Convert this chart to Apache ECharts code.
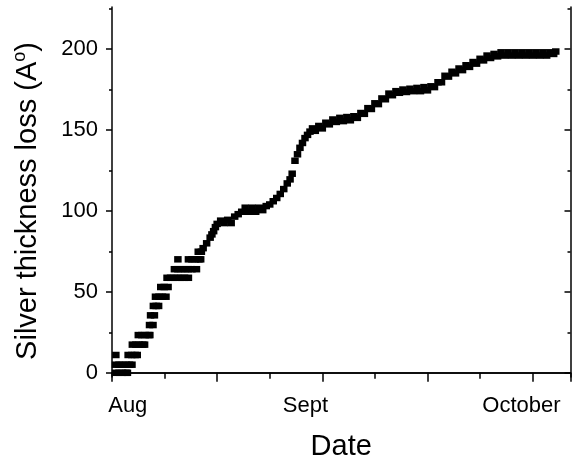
<!DOCTYPE html>
<html>
<head>
<meta charset="utf-8">
<script src="https://cdn.jsdelivr.net/npm/echarts@6/dist/echarts.min.js"></script>
<style>
  html, body { margin: 0; padding: 0; background: #fff; }
  #main { width: 572px; height: 461px; }
</style>
</head>
<body>
<div id="main"></div>
<script>
// days after 1 Aug (axis unit: 30 per month label)
var days = [
  0.5, 1, 1.5, 2, 2.2,
  0.5, 1, 1.5, 2, 2.5, 2.85,
  0.55, 2.3, 2.8, 3.3, 3.6,
  2.9, 3.4, 3.9, 4.4, 4.65,
  3.75, 4.25, 4.75, 5.25, 5.4,
  5.35, 5.85,
  5.5, 6.05,
  5.9, 6.3, 6.65,
  6.2, 6.7, 7.2, 7.7,
  6.95, 7.45, 8.0,
  7.85, 8.35, 8.85, 9.35, 9.85, 10.35, 10.9,
  8.9, 9.4, 9.9, 10.4, 10.9, 11.4, 12.05,
  9.4, 10.9, 11.4, 11.9, 12.4, 12.65,
  12.3, 12.75,
  13, 13.5, 14, 14.25, 14.5, 14.75, 15, 15.5, 16, 16.5, 17, 17.5,
  18, 18.5, 19, 19.5, 20, 20.5, 21, 21.5, 22, 22.5,
  23, 23.5, 24, 24.5, 25, 25.4, 25.7, 26.1, 26.46, 26.81,
  27.17, 27.53, 27.89, 28.24, 28.6, 29, 29.5, 30, 30.5, 31, 31.5,
  32, 32.5, 33, 33.5, 34, 34.5, 35, 35.5, 36, 36.5,
  37, 37.5, 38, 38.5, 39, 39.5, 40, 40.5, 41, 41.5,
  42, 42.5, 43, 43.5, 44, 44.5, 45, 45.5, 46, 46.5,
  47, 47.5, 48, 48.5, 49, 49.5, 50, 50.5, 51, 51.5,
  52, 52.5, 53, 53.5, 54, 54.5, 55, 55.5, 56, 56.5,
  57, 57.5, 58, 58.5, 59, 59.5, 60, 60.5, 61, 61.5,
  62, 62.5, 63, 63.3
];
var loss = [
  0, 0, 0, 0, 0,
  5, 5, 5, 5, 5, 5,
  11, 11, 11, 11, 11,
  17.4, 17.4, 17.4, 17.4, 17.4,
  23.3, 23.3, 23.3, 23.3, 23.3,
  29.5, 29.5,
  35.5, 35.5,
  41.3, 41.3, 41.3,
  47, 47, 47, 47,
  53, 53, 53,
  58.7, 58.7, 58.7, 58.7, 58.7, 58.7, 58.7,
  64, 64, 64, 64, 64, 64, 64,
  70.1, 70.1, 70.1, 70.1, 70.1, 70.1,
  74.8, 74.8,
  77, 80, 83.5, 85.5, 87.5, 90, 92, 94, 92.5, 94.5, 92.5, 96.5,
  98, 99.5, 102, 99.5, 102, 99.5, 102, 100.5, 103, 104,
  106, 108, 110.5, 113.5, 117, 119.5, 123, 131, 135, 139,
  142, 145, 147, 149, 151, 149.5, 152.5, 151, 154.5, 153.5, 156.5,
  155, 157.5, 155.5, 158, 156, 158.5, 157.5, 160.5, 160, 163.5,
  163, 166.5, 166, 169.5, 169, 172.5, 171.5, 174, 173, 175,
  173.5, 175.5, 174, 176, 174, 176.5, 174.5, 177, 176.5, 179.5,
  179.5, 183.5, 183, 186, 185, 188, 187, 190, 189, 192,
  191, 194, 193, 196, 194.5, 197, 195.5, 198, 196, 198,
  196, 198, 196, 198, 196, 198, 196, 198, 196, 198,
  196, 198, 197, 198.5
];
var dateLabels = ['Aug', 'Sept', 'October'];
var lossTicks = [0, 50, 100, 150, 200];
var lossMinorTicks = [25, 75, 125, 175, 225];

var points = days.map(function (d, i) { return [d, loss[i]]; });
var labelAt = [2.25, 27.6, 58.4];

var font = 'Liberation Sans, Arial, sans-serif';
var black = { color: '#000', width: 1.5 };

var myChart = echarts.init(document.getElementById('main'));
var xBase = { type: 'value', min: 0, max: 65.4, interval: 15, splitLine: { show: false } };
var yBase = { type: 'value', min: -2.6, max: 226, splitLine: { show: false } };

var option = {
    animation: false,
    backgroundColor: '#fff',
    grid: { left: 112, right: 1.5, top: 7, bottom: 84, outerBoundsMode: 'none', containLabel: false },
    xAxis: [
        echarts.util.merge({
            position: 'bottom',
            name: 'Date',
            nameLocation: 'middle',
            nameGap: 55,
            nameTextStyle: { fontFamily: font, fontSize: 29, color: '#000' },
            axisLine: { lineStyle: black },
            axisTick: { length: 8, lineStyle: black },
            minorTick: { show: true, splitNumber: 2, length: 5, lineStyle: black },
            axisLabel: {
                customValues: labelAt,
                margin: 18,
                fontFamily: font, fontSize: 22, color: '#000',
                formatter: function (v) { return dateLabels[labelAt.indexOf(v)]; }
            }
        }, xBase),
        echarts.util.merge({
            position: 'top',
            axisLine: { lineStyle: black },
            axisTick: { inside: true, length: 9, lineStyle: black },
            minorTick: { show: true, splitNumber: 2, length: 6, lineStyle: black },
            axisLabel: { show: false }
        }, xBase)
    ],
    yAxis: [
        echarts.util.merge({
            position: 'left',
            name: 'Silver thickness loss (A{sup|o})',
            nameLocation: 'middle',
            nameGap: 68,
            nameTextStyle: {
                fontFamily: font, fontSize: 29, color: '#000',
                padding: [0, 18, 0, 0],
                rich: { sup: { fontFamily: font, fontSize: 18, color: '#000', padding: [0, 0, 15, 0] } }
            },
            axisLine: { lineStyle: black },
            axisTick: { customValues: lossTicks, length: 6, lineStyle: black },
            axisLabel: { customValues: lossTicks, margin: 14, fontFamily: font, fontSize: 22, color: '#000' }
        }, yBase),
        echarts.util.merge({
            position: 'left',
            axisLine: { show: false },
            axisTick: { customValues: lossMinorTicks, length: 3, lineStyle: black },
            axisLabel: { show: false }
        }, yBase),
        echarts.util.merge({
            position: 'right',
            axisLine: { lineStyle: black },
            axisTick: { inside: true, customValues: lossTicks, length: 6, lineStyle: black },
            axisLabel: { show: false }
        }, yBase),
        echarts.util.merge({
            position: 'right',
            axisLine: { show: false },
            axisTick: { inside: true, customValues: lossMinorTicks, length: 3, lineStyle: black },
            axisLabel: { show: false }
        }, yBase)
    ],
    series: [{
        name: 'loss',
        type: 'scatter',
        xAxisIndex: 0,
        yAxisIndex: 0,
        symbol: 'rect',
        symbolSize: [7.5, 6.5],
        itemStyle: { color: '#000', opacity: 1 },
        data: points
    }]
};
myChart.setOption(option);
</script>
</body>
</html>
